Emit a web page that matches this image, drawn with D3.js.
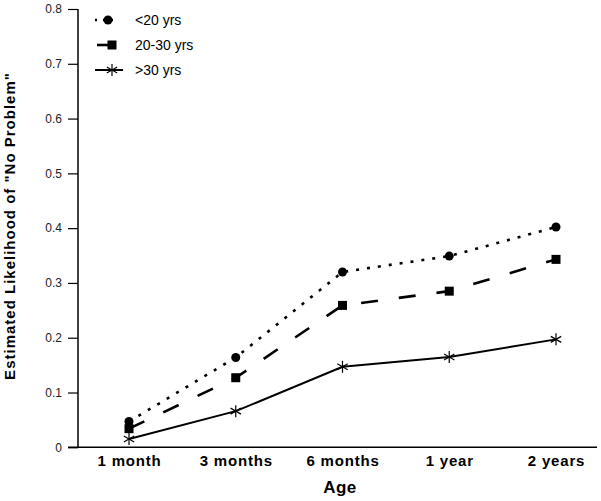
<!DOCTYPE html>
<html><head><meta charset="utf-8">
<script src="https://cdn.jsdelivr.net/npm/d3@7"></script>
<style>body{margin:0;background:#fff}svg{display:block}</style>
</head><body>
<svg id="c" width="601" height="501"></svg>
<script>
const categories = ["1 month","3 months","6 months","1 year","2 years"];
const seriesNames = ["<20 yrs","20-30 yrs",">30 yrs"];
const under20 = [0.047,0.164,0.320,0.349,0.402];
const between20_30 = [0.034,0.127,0.259,0.285,0.343];
const over30 = [0.015,0.066,0.147,0.165,0.197];
const yTicks = [0,0.1,0.2,0.3,0.4,0.5,0.6,0.7,0.8];
const yTickLabels = ["0","0.1","0.2","0.3","0.4","0.5","0.6","0.7","0.8"];

const svg = d3.select("#c");
const x = d3.scalePoint().domain(categories).range([129,556]);
const y = d3.scaleLinear().domain([0,0.8]).range([447.3,9]);
const axisLeftX = 78, axisRightX = 597;
const FONT = "Liberation Sans, Arial, sans-serif";

// y axis
const ya = svg.append("g").attr("transform",`translate(${axisLeftX},0)`)
  .call(d3.axisLeft(y).tickValues(yTicks).tickFormat((d,i)=>yTickLabels[i]).tickSize(10).tickPadding(6));
ya.select(".domain").attr("stroke","#000").attr("stroke-width",1.5).attr("d",`M0,${y(0)}V${y(0.8)}`);
ya.selectAll(".tick line").attr("stroke","#000").attr("stroke-width",1.2);
ya.selectAll(".tick text").attr("font-family",FONT).attr("font-size",12).attr("fill","#222");

// x axis
const xa = svg.append("g").attr("transform",`translate(0,${y(0)})`)
  .call(d3.axisBottom(x).tickSize(0).tickPadding(8));
xa.select(".domain").attr("stroke","#000").attr("stroke-width",1.5).attr("d",`M${axisLeftX-10},0H${axisRightX}`);
xa.selectAll(".tick text").attr("font-family",FONT).attr("font-size",15).attr("font-weight","bold")
  .attr("letter-spacing",0.8).attr("fill","#000");

// titles
svg.append("text").attr("x",340).attr("y",493).attr("text-anchor","middle")
  .attr("font-family",FONT).attr("font-size",17).attr("font-weight","bold").attr("letter-spacing",0.5).text("Age");
svg.append("text").attr("transform","translate(15,226) rotate(-90)").attr("text-anchor","middle")
  .attr("font-family",FONT).attr("font-size",15).attr("font-weight","bold")
  .attr("letter-spacing",1).text("Estimated Likelihood of \"No Problem\"");

const series = [
  {name:seriesNames[0], values:under20, dash:"3,8", width:2.6, marker:"circle"},
  {name:seriesNames[1], values:between20_30, dash:"17,21", width:2.6, marker:"square"},
  {name:seriesNames[2], values:over30, dash:null, width:2, marker:"star"}
];
const line = d3.line().x((d,i)=>x(categories[i])).y(d=>y(d));

function drawMarker(g, type, cx, cy){
  if(type==="circle") g.append("circle").attr("cx",cx).attr("cy",cy).attr("r",4.5).attr("fill","#000");
  else if(type==="square") g.append("rect").attr("x",cx-4.5).attr("y",cy-4.5).attr("width",9).attr("height",9).attr("fill","#000");
  else {
    const r=6;
    [0,60,120].forEach(a=>{
      const rad=a*Math.PI/180;
      g.append("line").attr("x1",cx-r*Math.sin(rad)).attr("y1",cy-r*Math.cos(rad))
        .attr("x2",cx+r*Math.sin(rad)).attr("y2",cy+r*Math.cos(rad)).attr("stroke","#000").attr("stroke-width",1.2);
    });
  }
}

series.forEach(s=>{
  const g = svg.append("g");
  g.append("path").attr("d",line(s.values)).attr("fill","none").attr("stroke","#000")
    .attr("stroke-width",s.width).attr("stroke-dasharray",s.dash);
  s.values.forEach((v,i)=>drawMarker(g,s.marker,x(categories[i]),y(v)));
});

// legend
const legRows = [20,45,70];
const legLines = [[95,118],[97,112],[95,123]];
const legMarkX = [108,112,112];
series.forEach((s,i)=>{
  const g = svg.append("g");
  g.append("line").attr("x1",legLines[i][0]).attr("x2",legLines[i][1]).attr("y1",legRows[i]).attr("y2",legRows[i])
    .attr("stroke","#000").attr("stroke-width",s.width).attr("stroke-dasharray",i===0?"2,6":null);
  drawMarker(g,s.marker,legMarkX[i],legRows[i]);
  g.append("text").attr("x",135).attr("y",legRows[i]+5).attr("font-family",FONT)
    .attr("font-size",14).attr("fill","#000").text(s.name);
});
</script>
</body></html>
